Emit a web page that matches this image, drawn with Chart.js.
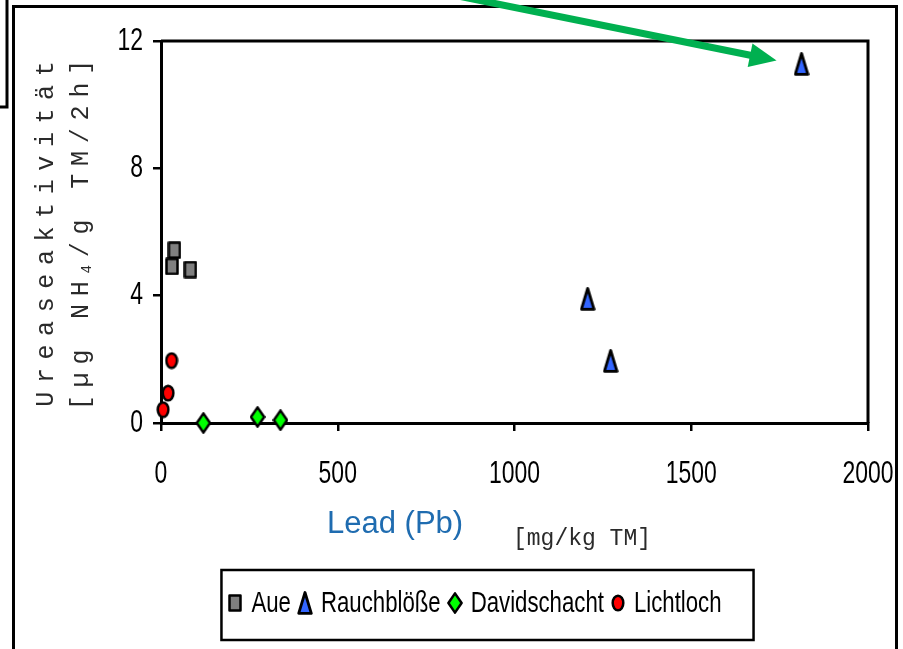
<!DOCTYPE html>
<html>
<head>
<meta charset="utf-8">
<script src="https://cdn.jsdelivr.net/npm/chart.js@4.4.1/dist/chart.umd.min.js"></script>
<style>
    html, body { margin: 0; padding: 0; background: #fff; }
    canvas { display: block; }
</style>
</head>
<body>
<canvas id="grafico" width="903" height="649"></canvas>
<script>
// Datos
const series = ["Aue", "Rauchblöße", "Davidschacht", "Lichtloch"];
const aueX = [38, 31, 83];
const aueY = [5.43, 4.92, 4.82];
const rauchX = [1812, 1207, 1272];
const rauchY = [11.28, 3.9, 1.95];
const davidX = [120, 273, 338];
const davidY = [0.0, 0.19, 0.09];
const lichtX = [30, 20, 6];
const lichtY = [1.96, 0.94, 0.42];
const ticksX = [0, 500, 1000, 1500, 2000];
const ticksY = [0, 4, 8, 12];

const fuenteSans = "'Liberation Sans', Arial, sans-serif";
const fuenteMono = "'Liberation Mono', 'Courier New', monospace";
const estrechar = 0.74; // imita Arial Narrow

// Marcadores dibujados a mano en pequeños canvas
function crearMarcador(ancho, alto, dibujar) {
    const c = document.createElement("canvas");
    c.width = ancho;
    c.height = alto;
    const g = c.getContext("2d");
    g.lineWidth = 2.5;
    g.strokeStyle = "#000";
    g.lineJoin = "round";
    dibujar(g);
    return c;
}

const cuadrado = crearMarcador(14, 18, g => {
    g.fillStyle = "#808080";
    g.fillRect(1.5, 1.5, 11, 15);
    g.strokeRect(1.5, 1.5, 11, 15);
});
const triangulo = crearMarcador(16, 24, g => {
    g.fillStyle = "#3366FF";
    g.beginPath();
    g.moveTo(8, 1.5);
    g.lineTo(14.3, 22.3);
    g.lineTo(1.7, 22.3);
    g.closePath();
    g.fill();
    g.lineWidth = 2.8;
    g.stroke();
});
const rombo = crearMarcador(16, 22, g => {
    g.fillStyle = "#00FF00";
    g.beginPath();
    g.moveTo(8, 1.4);
    g.lineTo(14.6, 11);
    g.lineTo(8, 20.6);
    g.lineTo(1.4, 11);
    g.closePath();
    g.fill();
    g.stroke();
});
const circulo = crearMarcador(14, 18, g => {
    g.fillStyle = "#FF0000";
    g.beginPath();
    g.ellipse(7, 9, 5.3, 7.3, 0, 0, Math.PI * 2);
    g.fill();
    g.stroke();
});
const marcadores = [cuadrado, triangulo, rombo, circulo];

function puntos(xs, ys) {
    return xs.map((x, i) => ({ x: x, y: ys[i] }));
}

// texto estrecho (Liberation Sans comprimido en horizontal)
function textoEstrecho(c, texto, x, y, tam, alinear) {
    c.save();
    c.font = tam + "px " + fuenteSans;
    c.textAlign = alinear;
    c.textBaseline = "middle";
    c.translate(x, y);
    c.scale(estrechar, 1);
    c.fillText(texto, 0, 0);
    c.restore();
}

function anchoEstrecho(c, texto, tam) {
    c.save();
    c.font = tam + "px " + fuenteSans;
    const w = c.measureText(texto).width * estrechar;
    c.restore();
    return w;
}

function dibujarVertical(c, x, centroY, espacio, partes) {
    c.save();
    c.letterSpacing = espacio + "px";
    let total = 0;
    partes.forEach(p => {
        c.font = p.f + "px " + fuenteMono;
        p.w = c.measureText(p.t).width;
        total += p.w;
    });
    total -= espacio;
    c.translate(x, centroY);
    c.rotate(-Math.PI / 2);
    let pos = -total / 2;
    partes.forEach(p => {
        c.font = p.f + "px " + fuenteMono;
        c.fillText(p.t, pos, p.dy || 0);
        pos += p.w;
    });
    c.restore();
}

// Plugin para marcos, etiquetas, leyenda y la flecha
const decoracion = {
    id: "decoracion",
    beforeDraw(chart) {
        const c = chart.ctx;
        c.save();
        c.fillStyle = "#fff";
        c.fillRect(0, 0, chart.width, chart.height);
        c.restore();
    },
    afterDraw(chart) {
        const c = chart.ctx;
        const area = chart.chartArea;
        const ejeX = chart.scales.x;
        const ejeY = chart.scales.y;
        c.save();

        // caja pequeña arriba a la izquierda
        c.strokeStyle = "#000";
        c.lineWidth = 3;
        c.beginPath();
        c.moveTo(7, -2);
        c.lineTo(7, 107);
        c.lineTo(-2, 107);
        c.stroke();

        // marco exterior
        c.beginPath();
        c.moveTo(13.5, 660);
        c.lineTo(13.5, 6.5);
        c.lineTo(896.5, 6.5);
        c.lineTo(896.5, 660);
        c.stroke();

        // marco del área de trazado (arriba y derecha)
        c.beginPath();
        c.moveTo(area.left, area.top);
        c.lineTo(area.right, area.top);
        c.lineTo(area.right, area.bottom);
        c.stroke();

        // etiquetas de los ejes
        c.fillStyle = "#000";
        ejeY.ticks.forEach(t => {
            textoEstrecho(c, String(t.value), area.left - 18, ejeY.getPixelForValue(t.value), 31, "right");
        });
        ejeX.ticks.forEach(t => {
            textoEstrecho(c, String(t.value), ejeX.getPixelForValue(t.value), 474, 31, "center");
        });

        // leyenda con caja
        const tamLey = 30;
        const yLey = 604;
        let anchoTotal = 0;
        const anchos = series.map(s => anchoEstrecho(c, s, tamLey));
        anchos.forEach((w, i) => { anchoTotal += 16 + w + (i < anchos.length - 1 ? 14 : 0); });
        let xLey = 478.5 - anchoTotal / 2;
        c.lineWidth = 2.5;
        c.strokeRect(xLey - 14, 570, anchoTotal + 46, 70);
        series.forEach((s, i) => {
            const m = marcadores[i];
            c.drawImage(m, Math.round(xLey - m.width / 2), Math.round(yLey - 1 - m.height / 2));
            textoEstrecho(c, s, xLey + 16, yLey, tamLey, "left");
            xLey += 16 + anchos[i] + 14;
        });

        // título del eje Y (dos líneas, monoespaciado y espaciado)
        c.fillStyle = "#2a2a2a";
        c.textBaseline = "alphabetic";
        c.textAlign = "left";
        dibujarVertical(c, 53, 234, 8.6, [{ t: "Ureaseaktivität", f: 25 }]);
        dibujarVertical(c, 88, 235, 7.8, [
            { t: "[µg NH", f: 25 },
            { t: "4", f: 14, dy: 3 },
            { t: "/g TM/2h]", f: 25 }
        ]);

        // títulos del eje X
        c.font = "31px " + fuenteSans;
        c.fillStyle = "#1F6CB0";
        c.fillText("Lead (Pb)", 327, 533);
        c.font = "23px " + fuenteMono;
        c.fillStyle = "#2a2a2a";
        c.fillText("[mg/kg TM]", 513, 545);

        // flecha verde
        c.strokeStyle = "#00B050";
        c.fillStyle = "#00B050";
        c.lineWidth = 7;
        c.lineCap = "butt";
        const x0 = 458, y0 = -4, x1 = 754, y1 = 56;
        c.beginPath();
        c.moveTo(x0, y0);
        c.lineTo(x1, y1);
        c.stroke();
        const ang = Math.atan2(y1 - y0, x1 - x0);
        c.translate(x1 - 4 * Math.cos(ang), y1 - 4 * Math.sin(ang));
        c.rotate(ang);
        c.beginPath();
        c.moveTo(27, 0);
        c.lineTo(0, -12);
        c.lineTo(0, 12);
        c.closePath();
        c.fill();

        c.restore();
    }
};

const ctx = document.getElementById("grafico").getContext("2d");

const grafico = new Chart(ctx, {
    type: "scatter",
    data: {
        datasets: [
            { label: series[0], data: puntos(aueX, aueY), pointStyle: cuadrado, clip: false },
            { label: series[1], data: puntos(rauchX, rauchY), pointStyle: triangulo, clip: false },
            { label: series[2], data: puntos(davidX, davidY), pointStyle: rombo, clip: false },
            { label: series[3], data: puntos(lichtX, lichtY), pointStyle: circulo, clip: false }
        ]
    },
    options: {
        responsive: false,
        animation: false,
        layout: { padding: { top: 41, right: 35, left: 101, bottom: 126 } },
        plugins: {
            legend: { display: false },
            tooltip: { enabled: false }
        },
        scales: {
            x: {
                type: "linear",
                min: ticksX[0],
                max: ticksX[ticksX.length - 1],
                afterBuildTicks: s => { s.ticks = ticksX.map(v => ({ value: v })); },
                ticks: { display: false },
                grid: { drawOnChartArea: false, tickLength: 8, color: "#000", lineWidth: 2.5 },
                border: { color: "#000", width: 3 },
                afterFit: s => { s.height = 100; }
            },
            y: {
                type: "linear",
                min: ticksY[0],
                max: ticksY[ticksY.length - 1],
                afterBuildTicks: s => { s.ticks = ticksY.map(v => ({ value: v })); },
                ticks: { display: false },
                grid: { drawOnChartArea: false, tickLength: 8, color: "#000", lineWidth: 2.5 },
                border: { color: "#000", width: 3 },
                afterFit: s => { s.width = 60; }
            }
        }
    },
    plugins: [decoracion]
});
</script>
</body>
</html>
